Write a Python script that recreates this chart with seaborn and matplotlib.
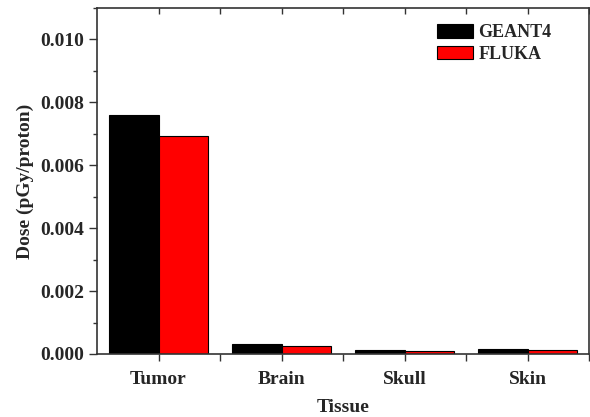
import matplotlib
matplotlib.use("Agg")
import matplotlib.pyplot as plt
import seaborn as sns
import pandas as pd
from matplotlib.ticker import MultipleLocator, FormatStrFormatter, FixedLocator

tissues = ["Tumor", "Brain", "Skull", "Skin"]
geant4 = [0.00759, 0.00032, 0.00014, 0.00017]
fluka = [0.00692, 0.00026, 0.00010, 0.00013]
series = ["GEANT4", "FLUKA"]
colors = ["#000000", "#ff0000"]

df = pd.DataFrame({
    "Tissue": tissues * 2,
    "Dose": geant4 + fluka,
    "Code": [series[0]] * 4 + [series[1]] * 4,
})

sns.set_style("white")
plt.rcParams["font.family"] = ["Liberation Serif", "DejaVu Serif"]
plt.rcParams["font.weight"] = "bold"

fig = plt.figure(figsize=(5.9, 4.17), dpi=100)
ax = fig.add_axes([97 / 590, 63 / 417, 492 / 590, 346 / 417])

sns.barplot(data=df, x="Tissue", y="Dose", hue="Code", palette=colors,
            saturation=1, edgecolor="black", linewidth=0.8, width=0.8, ax=ax)

ax.set_xlim(-0.5, 3.5)
ax.set_ylim(0, 0.011)
ax.yaxis.set_major_locator(MultipleLocator(0.002))
ax.yaxis.set_minor_locator(MultipleLocator(0.001))
ax.yaxis.set_major_formatter(FormatStrFormatter("%.3f"))
ax.xaxis.set_minor_locator(FixedLocator([0.5, 1.5, 2.5, 3.5]))

for s in ax.spines.values():
    s.set_visible(True)
    s.set_color("#333333")
    s.set_linewidth(1.2)

ax.tick_params(axis="both", which="both", color="#333333", width=1.0)
ax.tick_params(axis="y", which="major", direction="out", length=6, left=True, labelsize=14)
ax.tick_params(axis="y", which="minor", direction="out", length=3, left=True)
ax.tick_params(axis="x", which="major", direction="out", length=5, bottom=True, top=True, labelsize=14, pad=7)
ax.tick_params(axis="x", which="minor", direction="out", length=5, bottom=True, top=True)
for t in ax.xaxis.get_major_ticks() + ax.xaxis.get_minor_ticks():
    t.tick2line.set_marker(3)
    t.tick2line.set_markersize(4)

for lab in ax.get_xticklabels() + ax.get_yticklabels():
    lab.set_fontweight("bold")

ax.set_xlabel("Tissue", fontsize=14, fontweight="bold", labelpad=8)
ax.set_ylabel("Dose (pGy/proton)", fontsize=14, fontweight="bold", labelpad=4)

leg = ax.legend(loc="upper left", frameon=False, fontsize=13,
                handlelength=2.0, handleheight=0.8, handletextpad=0.3,
                labelspacing=0.25, bbox_to_anchor=(329 / 492, 1 - 5 / 346),
                borderaxespad=0.3, borderpad=0.3)
for t in leg.get_texts():
    t.set_fontweight("bold")

fig.savefig("out.png", dpi=100)
